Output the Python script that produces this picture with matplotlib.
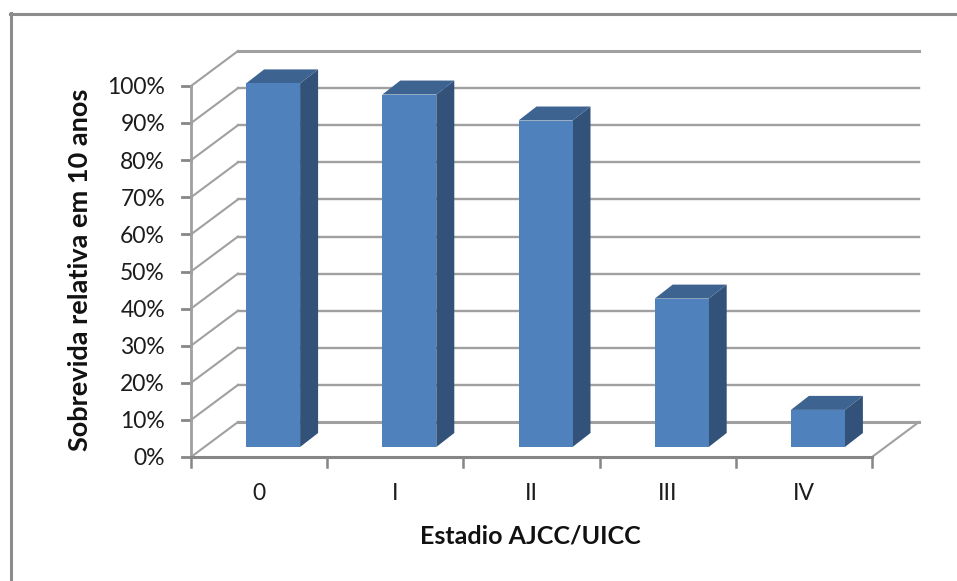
import matplotlib.pyplot as plt
from matplotlib.lines import Line2D
from matplotlib.patches import Polygon, Rectangle

plt.rcParams['font.family'] = ['Lato', 'DejaVu Sans']

categories = ["0", "I", "II", "III", "IV"]
survival = [98, 95, 88, 40, 10]
y_ticks = [0, 10, 20, 30, 40, 50, 60, 70, 80, 90, 100]
x_label = "Estadio AJCC/UICC"
y_label = "Sobrevida relativa em 10 anos"

W, H = 957, 581
LEFT, RIGHT, TOP, BOTTOM = 191, 872, 86, 457

fig = plt.figure(figsize=(W / 100, H / 100), dpi=100, facecolor="white")

# the outer frame is cropped: only top and left edges show
frame_c = "#8c8c8c"
fig.add_artist(Line2D([10 / W, 1], [1 - 13.5 / H, 1 - 13.5 / H], color=frame_c, lw=2.2))
fig.add_artist(Line2D([10.5 / W, 10.5 / W], [0, 1 - 13 / H], color=frame_c, lw=2.2))

ax = fig.add_axes([LEFT / W, 1 - BOTTOM / H, (RIGHT - LEFT) / W, (BOTTOM - TOP) / H])
ax.set_xlim(-0.5, 4.5)
ax.set_ylim(0, 100)
ax.axis("off")

# depth of the fake 3d box, in data units
px_x = (RIGHT - LEFT) / 5
px_y = (BOTTOM - TOP) / 100
depth_x = 47 / px_x
depth_y = 35 / px_y
bar_w = 54 / px_x
bar_dx = 18 / px_x
bar_dy = 14 / px_y
base_x = 14 / px_x
base_y = 10 / px_y

grid_c = "#a0a0a0"
axis_c = "#868686"
text_c = "#1c1c1c"

# walls and gridlines
for t in y_ticks:
    lw = 2.2 if t in (0, 100) else 1.7
    ax.plot([-0.5, -0.5 + depth_x], [t, t + depth_y], color=grid_c, lw=1.5, clip_on=False)
    ax.plot([-0.5 + depth_x, 4.5 + depth_x], [t + depth_y, t + depth_y], color=grid_c, lw=lw, clip_on=False)
    ax.plot([-0.5 - 9 / px_x, -0.5], [t, t], color=axis_c, lw=2, clip_on=False)
    ax.text(-0.5 - 26 / px_x, t - 0.5, f"{t}%", ha="right", va="center", fontsize=16.5, color=text_c)

ax.plot([4.5, 4.5 + depth_x], [0, depth_y], color=grid_c, lw=1.5, clip_on=False)
ax.plot([-0.5, -0.5], [0, 100], color=grid_c, lw=2, clip_on=False)
ax.plot([-0.5, 4.5], [0, 0], color=axis_c, lw=2.2, clip_on=False)

for i in range(6):
    ax.plot([i - 0.5, i - 0.5], [0, -10 / px_y], color=axis_c, lw=1.8, clip_on=False)

# bars
for i, (cat, v) in enumerate(zip(categories, survival)):
    x0 = i - bar_w / 2 + base_x
    x1 = x0 + bar_w
    y0 = base_y
    y1 = base_y + v
    ax.add_patch(Polygon([(x1, y0), (x1 + bar_dx, y0 + bar_dy), (x1 + bar_dx, y1 + bar_dy), (x1, y1)],
                         facecolor="#325279", edgecolor="none", clip_on=False, zorder=3))
    ax.add_patch(Polygon([(x0, y1), (x1, y1), (x1 + bar_dx, y1 + bar_dy), (x0 + bar_dx, y1 + bar_dy)],
                         facecolor="#3d6390", edgecolor="none", clip_on=False, zorder=3))
    ax.add_patch(Rectangle((x0, y0), bar_w, v, facecolor="#4f81bd", edgecolor="none",
                           clip_on=False, zorder=4))
    ax.text(i, -9.8, cat, ha="center", va="center", fontsize=16.5, color=text_c)

fig.text(530 / W, 1 - 536 / H, x_label, ha="center", va="center", fontsize=18, fontweight="bold", color="#111111")
fig.text(80 / W, 1 - 270 / H, y_label, ha="center", va="center", rotation=90, fontsize=19.5,
         fontweight="bold", color="#111111")

fig.savefig("out.png", dpi=100)
